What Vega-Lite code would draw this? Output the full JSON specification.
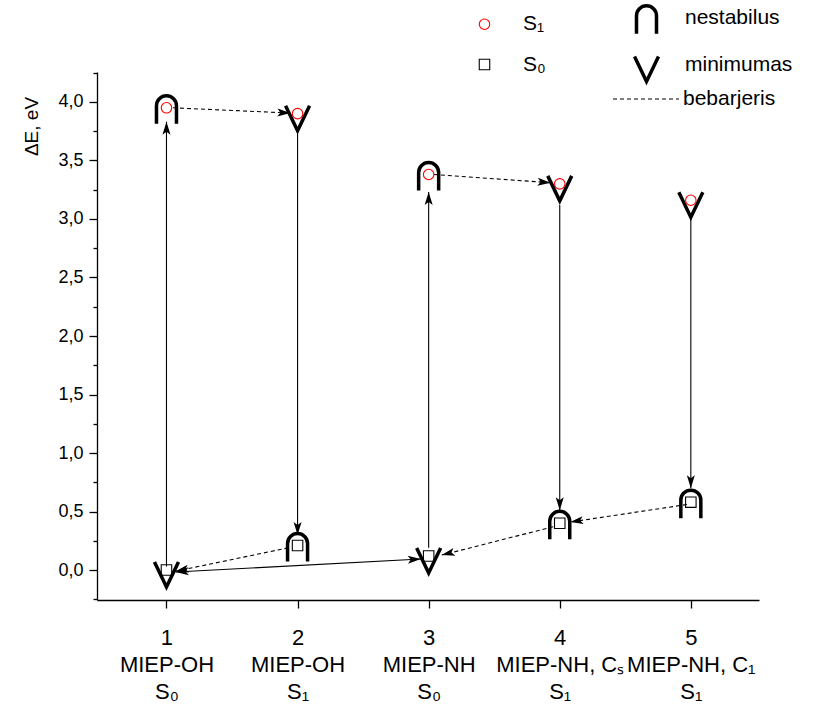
{
  "$schema": "https://vega.github.io/schema/vega-lite/v6.json",
  "width": 662,
  "height": 528,
  "autosize": {"type": "none"},
  "padding": {"left": 97, "top": 72, "right": 59, "bottom": 115},
  "config": {
    "view": {"stroke": null},
    "font": "Liberation Sans",
    "axis": {"domainColor": "#000", "domainWidth": 1.3, "tickColor": "#000", "tickWidth": 1.3, "labelColor": "#000", "titleColor": "#000", "grid": false, "labelFont": "Liberation Sans", "titleFont": "Liberation Sans"},
    "legend": {"padding": 0, "labelFont": "Liberation Sans", "labelFontSize": 21, "labelColor": "#000", "labelLimit": 400, "title": null}
  },
  "datasets": {
    "states": [
      {"n": 1, "E": 3.95, "state": "S₁", "forma": "nestabilus"},
      {"n": 2, "E": 3.90, "state": "S₁", "forma": "minimumas"},
      {"n": 3, "E": 3.38, "state": "S₁", "forma": "nestabilus"},
      {"n": 4, "E": 3.30, "state": "S₁", "forma": "minimumas"},
      {"n": 5, "E": 3.16, "state": "S₁", "forma": "minimumas"},
      {"n": 1, "E": 0.00, "state": "S₀", "forma": "minimumas"},
      {"n": 2, "E": 0.21, "state": "S₀", "forma": "nestabilus"},
      {"n": 3, "E": 0.12, "state": "S₀", "forma": "minimumas"},
      {"n": 4, "E": 0.40, "state": "S₀", "forma": "nestabilus"},
      {"n": 5, "E": 0.58, "state": "S₀", "forma": "nestabilus"}
    ],
    "arrows": [
      {"x1": 1, "y1": 0.03, "x2": 1, "y2": 3.83, "tipas": "šuolis", "abi": false},
      {"x1": 2, "y1": 3.73, "x2": 2, "y2": 0.30, "tipas": "šuolis", "abi": false},
      {"x1": 3, "y1": 0.19, "x2": 3, "y2": 3.23, "tipas": "šuolis", "abi": false},
      {"x1": 4, "y1": 3.12, "x2": 4, "y2": 0.51, "tipas": "šuolis", "abi": false},
      {"x1": 5, "y1": 3.05, "x2": 5, "y2": 0.70, "tipas": "šuolis", "abi": false},
      {"x1": 2.94, "y1": 0.094, "x2": 1.07, "y2": -0.017, "tipas": "šuolis", "abi": true},
      {"x1": 1.05, "y1": 3.95, "x2": 1.945, "y2": 3.905, "tipas": "bebarjeris", "abi": false},
      {"x1": 3.04, "y1": 3.38, "x2": 3.93, "y2": 3.31, "tipas": "bebarjeris", "abi": false},
      {"x1": 1.93, "y1": 0.19, "x2": 1.07, "y2": -0.01, "tipas": "bebarjeris", "abi": false},
      {"x1": 3.95, "y1": 0.37, "x2": 3.10, "y2": 0.128, "tipas": "bebarjeris", "abi": false},
      {"x1": 4.97, "y1": 0.56, "x2": 4.08, "y2": 0.41, "tipas": "bebarjeris", "abi": false}
    ]
  },
  "layer": [
    {
      "data": {"name": "arrows"},
      "transform": [{"filter": "datum.tipas == 'šuolis'"}],
      "mark": {"type": "rule", "color": "#000", "strokeWidth": 1.1},
      "encoding": {
        "x": {"field": "x1", "type": "quantitative", "scale": {"domain": [0.47, 5.52], "nice": false, "zero": false},
          "axis": {"title": null, "values": [1, 2, 3, 4, 5], "tickSize": 8, "labelFontSize": 22, "labelLineHeight": 27, "labelPadding": 19, "labelBaseline": "top",
            "labelExpr": "datum.value == 1 ? ['1','MIEP-OH','S₀'] : datum.value == 2 ? ['2','MIEP-OH','S₁'] : datum.value == 3 ? ['3','MIEP-NH','S₀'] : datum.value == 4 ? ['4','MIEP-NH, Cₛ','S₁'] : ['5','MIEP-NH, C₁','S₁']"}},
        "y": {"field": "y1", "type": "quantitative", "scale": {"domain": [-0.256, 4.256], "nice": false, "zero": false},
          "axis": {"title": "ΔE, eV", "titleFontSize": 19, "titleFontWeight": "normal", "titleX": -66, "titleY": 54, "titleAlign": "center", "titleBaseline": "middle", "titleAngle": -90,
            "values": [-0.25, 0, 0.25, 0.5, 0.75, 1, 1.25, 1.5, 1.75, 2, 2.25, 2.5, 2.75, 3, 3.25, 3.5, 3.75, 4, 4.25],
            "tickSize": {"condition": {"test": "(datum.value*2)%1 == 0", "value": 8}, "value": 4},
            "labelFontSize": 18, "labelPadding": 6,
            "labelExpr": "(datum.value*2)%1 == 0 ? replace(format(datum.value, '.1f'), '.', ',') : ''"}},
        "x2": {"field": "x2"},
        "y2": {"field": "y2"}
      }
    },
    {
      "data": {"name": "arrows"},
      "transform": [{"filter": "datum.tipas == 'bebarjeris'"}],
      "mark": {"type": "rule", "color": "#000", "strokeWidth": 1.1},
      "encoding": {
        "x": {"field": "x1", "type": "quantitative", "scale": {"domain": [0.47, 5.52], "nice": false, "zero": false}, "axis": null},
        "y": {"field": "y1", "type": "quantitative", "scale": {"domain": [-0.256, 4.256], "nice": false, "zero": false}, "axis": null},
        "x2": {"field": "x2"},
        "y2": {"field": "y2"},
        "strokeDash": {"field": "tipas", "type": "nominal", "scale": {"domain": ["bebarjeris"], "range": [[4, 3]]},
          "legend": {"orient": "none", "legendX": 515, "legendY": -7, "symbolType": "stroke", "symbolSize": 4356, "symbolStrokeColor": "#000", "symbolStrokeWidth": 1.1, "labelOffset": 3}}
      }
    },
    {
      "data": {"name": "arrows"},
      "transform": [{"calculate": "atan2((datum.x2-datum.x1)*131.09, (datum.y2-datum.y1)*117.02)*180/PI", "as": "ang"}],
      "mark": {"type": "point", "filled": true, "fill": "#000", "opacity": 1, "size": 4, "strokeWidth": 0, "shape": "M 0 0 L -4 13 L 0 10 L 4 13 Z"},
      "encoding": {
        "x": {"field": "x2", "type": "quantitative", "scale": {"domain": [0.47, 5.52], "nice": false, "zero": false}, "axis": null},
        "y": {"field": "y2", "type": "quantitative", "scale": {"domain": [-0.256, 4.256], "nice": false, "zero": false}, "axis": null},
        "angle": {"field": "ang", "type": "quantitative", "scale": null}
      }
    },
    {
      "data": {"name": "arrows"},
      "transform": [{"filter": "datum.abi"}, {"calculate": "atan2((datum.x1-datum.x2)*131.09, (datum.y1-datum.y2)*117.02)*180/PI", "as": "ang"}],
      "mark": {"type": "point", "filled": true, "fill": "#000", "opacity": 1, "size": 4, "strokeWidth": 0, "shape": "M 0 0 L -4 13 L 0 10 L 4 13 Z"},
      "encoding": {
        "x": {"field": "x1", "type": "quantitative", "scale": {"domain": [0.47, 5.52], "nice": false, "zero": false}, "axis": null},
        "y": {"field": "y1", "type": "quantitative", "scale": {"domain": [-0.256, 4.256], "nice": false, "zero": false}, "axis": null},
        "angle": {"field": "ang", "type": "quantitative", "scale": null}
      }
    },
    {
      "data": {"name": "states"},
      "mark": {"type": "point", "filled": false, "strokeCap": "butt", "opacity": 1},
      "encoding": {
        "x": {"field": "n", "type": "quantitative", "scale": {"domain": [0.47, 5.52], "nice": false, "zero": false}, "axis": null},
        "y": {"field": "E", "type": "quantitative", "scale": {"domain": [-0.256, 4.256], "nice": false, "zero": false}, "axis": null},
        "shape": {"field": "forma", "type": "nominal",
          "scale": {"domain": ["S₁", "S₀", "nestabilus", "minimumas"], "range": ["circle", "square", "M -10 16 L -10 -2 A 10 10 0 0 1 10 -2 L 10 16", "M -12 -8 L 0 17 L 12 -8"]},
          "legend": {"orient": "none", "legendX": 377, "legendY": -65, "columns": 2, "columnPadding": 81, "rowPadding": 8, "labelOffset": 28, "symbolFillColor": "transparent"}},
        "stroke": {"field": "forma", "type": "nominal", "scale": {"domain": ["S₁", "S₀", "nestabilus", "minimumas"], "range": ["#ff0000", "#000000", "#000000", "#000000"]}},
        "size": {"field": "forma", "type": "nominal", "scale": {"type": "ordinal", "domain": ["S₁", "S₀", "nestabilus", "minimumas"], "range": [110, 110, 4, 4]}},
        "strokeWidth": {"field": "forma", "type": "nominal", "scale": {"type": "ordinal", "domain": ["S₁", "S₀", "nestabilus", "minimumas"], "range": [1.1, 1.1, 3.5, 3.5]}}
      }
    },
    {
      "data": {"name": "states"},
      "mark": {"type": "point", "filled": false, "opacity": 1},
      "encoding": {
        "x": {"field": "n", "type": "quantitative", "scale": {"domain": [0.47, 5.52], "nice": false, "zero": false}, "axis": null},
        "y": {"field": "E", "type": "quantitative", "scale": {"domain": [-0.256, 4.256], "nice": false, "zero": false}, "axis": null},
        "shape": {"field": "state", "type": "nominal", "scale": {"domain": ["S₁", "S₀", "nestabilus", "minimumas"]}},
        "stroke": {"field": "state", "type": "nominal", "scale": {"domain": ["S₁", "S₀", "nestabilus", "minimumas"]}},
        "size": {"field": "state", "type": "nominal", "scale": {"type": "ordinal", "domain": ["S₁", "S₀", "nestabilus", "minimumas"]}},
        "strokeWidth": {"field": "state", "type": "nominal", "scale": {"type": "ordinal", "domain": ["S₁", "S₀", "nestabilus", "minimumas"]}}
      }
    }
  ],
  "resolve": {"axis": {"x": "independent", "y": "independent"}}
}
